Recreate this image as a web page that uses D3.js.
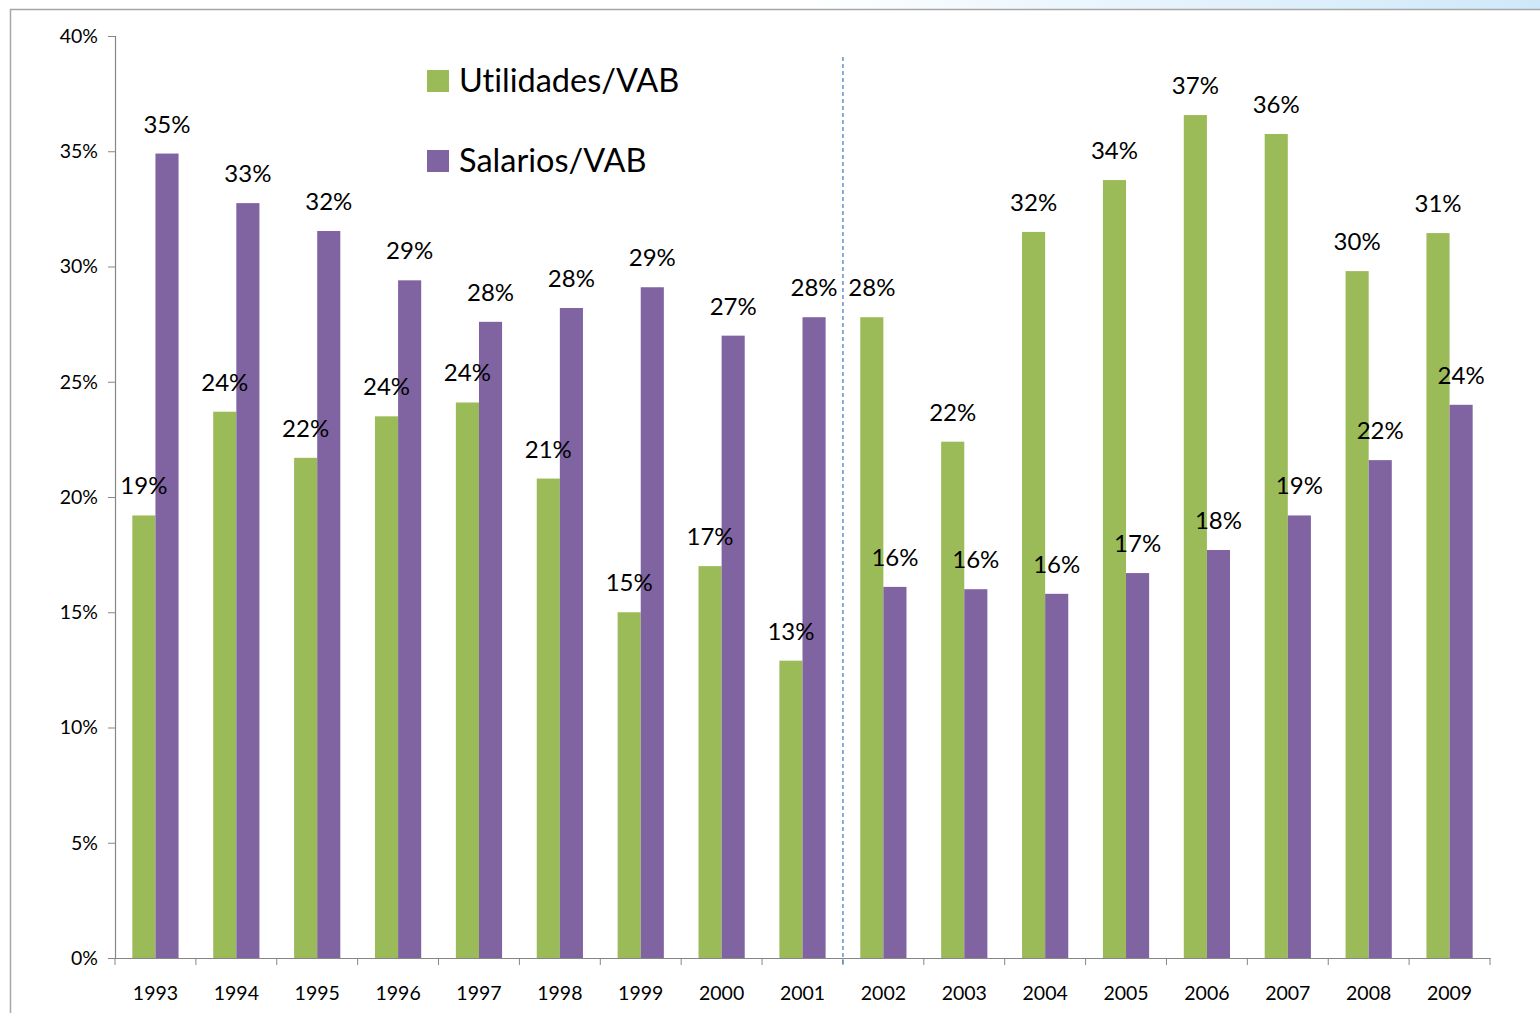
<!DOCTYPE html>
<html>
<head>
<meta charset="utf-8">
<script src="https://cdn.jsdelivr.net/npm/d3@7"></script>
<style>
    body { margin: 0; background: #ffffff; }
    svg { display: block; font-family: Lato, "Liberation Sans", sans-serif; font-variant-ligatures: none; }
</style>
</head>
<body>
<div id="wrapper"></div>
<script>
// datos (proporción del VAB)
const years = ["1993", "1994", "1995", "1996", "1997", "1998", "1999", "2000", "2001",
    "2002", "2003", "2004", "2005", "2006", "2007", "2008", "2009"];
const utilidades = [0.192, 0.237, 0.217, 0.235, 0.241, 0.208, 0.150, 0.170, 0.129,
    0.278, 0.224, 0.315, 0.3375, 0.3657, 0.3575, 0.298, 0.3145];
const salarios = [0.349, 0.3275, 0.3154, 0.294, 0.276, 0.282, 0.291, 0.270, 0.278,
    0.161, 0.160, 0.158, 0.167, 0.177, 0.192, 0.216, 0.240];
const yTicks = [0, 0.05, 0.10, 0.15, 0.20, 0.25, 0.30, 0.35, 0.40];
const seriesNames = ["Utilidades/VAB", "Salarios/VAB"];
const seriesColors = ["#9bbb59", "#8064a2"];
const splitAfter = "2001";


function drawChart(parent) {

    const wsvg = 1540;
    const hsvg = 1013;

    const left = 115;
    const right = 1490;
    const top = 36;
    const bottom = 958;

    const svg = d3.select(parent).append("svg")
        .attr("width", wsvg)
        .attr("height", hsvg)
        .attr("viewBox", `0 0 ${wsvg} ${hsvg}`);

    // franja azul de arriba
    const defs = svg.append("defs");
    const grad = defs.append("linearGradient").attr("id", "topStrip");
    grad.append("stop").attr("offset", "0%").attr("stop-color", "#ffffff");
    grad.append("stop").attr("offset", "40%").attr("stop-color", "#eaf5fd");
    grad.append("stop").attr("offset", "100%").attr("stop-color", "#cfe8f9");
    svg.append("rect")
        .attr("x", 800).attr("y", 0)
        .attr("width", 740).attr("height", 9)
        .attr("fill", "url(#topStrip)");

    // marco
    svg.append("path")
        .attr("d", `M10.5,${hsvg} V9.5 H${wsvg}`)
        .attr("fill", "none")
        .attr("stroke", "#a6a6a6")
        .attr("stroke-width", 1.5);

    const xScale = d3.scaleBand(years, [left, right]);
    const xInner = d3.scaleBand([0, 1], [0, 0]);
    const yScale = d3.scaleLinear([0, 0.4], [bottom, top]);

    // ancho de barra como en Excel, separación 150%
    const barW = xScale.bandwidth() / 3.5;
    const groupOffset = xScale.bandwidth() * 0.75 / 3.5;
    xInner.range([groupOffset, groupOffset + 2 * barW]);

    // eje Y
    const yAxis = d3.axisLeft(yScale)
        .tickValues(yTicks)
        .tickFormat(d3.format(".0%"))
        .tickSize(7)
        .tickPadding(10);

    const yAxisGroup = svg.append("g")
        .attr("transform", `translate(${left}, 0)`)
        .call(yAxis);

    yAxisGroup.selectAll("text")
        .attr("font-size", 19.5)
        .attr("font-family", "Lato, sans-serif")
        .attr("fill", "#000");

    // eje X
    const xAxis = d3.axisBottom(xScale)
        .tickSize(0)
        .tickPadding(28);

    const xAxisGroup = svg.append("g")
        .attr("transform", `translate(0, ${bottom})`)
        .call(xAxis);

    xAxisGroup.selectAll("text")
        .attr("font-size", 19.5)
        .attr("font-family", "Lato, sans-serif")
        .attr("fill", "#000");

    // marcas entre categorías
    xAxisGroup.selectAll(".sep")
        .data(years.concat(["end"]))
        .enter()
        .append("line")
        .attr("class", "sep")
        .attr("x1", (d, i) => left + i * xScale.step())
        .attr("x2", (d, i) => left + i * xScale.step())
        .attr("y1", 0)
        .attr("y2", 7)
        .attr("stroke", "#868686");

    svg.selectAll(".domain").attr("stroke", "#868686").attr("stroke-width", 1.2);
    svg.selectAll(".tick line").attr("stroke", "#868686");

    // barras
    const rows = years.map((y, i) => ({ year: y, values: [utilidades[i], salarios[i]] }));

    const groups = svg.selectAll(".yearGroup")
        .data(rows)
        .enter()
        .append("g")
        .attr("class", "yearGroup")
        .attr("transform", d => `translate(${xScale(d.year)}, 0)`);

    groups.selectAll("rect")
        .data(d => d.values.map((v, k) => ({ k: k, v: v })))
        .enter()
        .append("rect")
        .attr("x", d => xInner(d.k))
        .attr("y", d => yScale(d.v))
        .attr("width", barW)
        .attr("height", d => bottom - yScale(d.v))
        .attr("fill", d => seriesColors[d.k]);

    groups.selectAll("text")
        .data(d => d.values.map((v, k) => ({ k: k, v: v })))
        .enter()
        .append("text")
        .attr("x", d => xInner(d.k) + barW / 2)
        .attr("y", d => yScale(d.v) - 21)
        .attr("text-anchor", "middle")
        .attr("font-size", 24)
        .attr("fill", "#000")
        .text(d => d3.format(".0%")(d.v));

    // línea punteada entre 2001 y 2002
    const splitX = xScale(splitAfter) + xScale.step();
    svg.append("line")
        .attr("x1", splitX)
        .attr("x2", splitX)
        .attr("y1", 57)
        .attr("y2", 966)
        .attr("stroke", "#4f81bd")
        .attr("stroke-width", 1.3)
        .attr("stroke-dasharray", "4,3");

    // leyenda
    const legend = svg.append("g")
        .attr("transform", "translate(427, 70)");

    seriesNames.forEach((name, i) => {
        legend.append("rect")
            .attr("x", 0)
            .attr("y", i * 80)
            .attr("width", 22)
            .attr("height", 22)
            .attr("fill", seriesColors[i]);

        legend.append("text")
            .attr("x", 32)
            .attr("y", i * 80 + 22)
            .attr("font-size", 32.5)
            .attr("fill", "#000")
            .text(name);
    });
}

drawChart(document.querySelector("#wrapper"));
</script>
</body>
</html>
